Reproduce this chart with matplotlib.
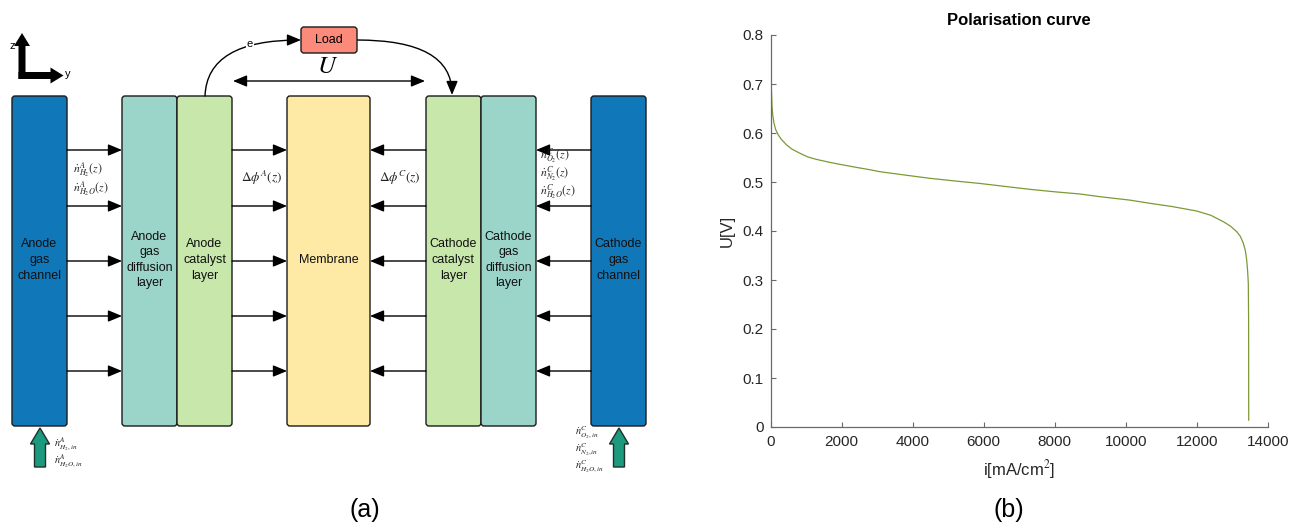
import matplotlib
matplotlib.use("Agg")
import matplotlib.pyplot as plt
from matplotlib.patches import FancyBboxPatch, FancyArrow, FancyArrowPatch
from matplotlib.path import Path

plt.rcParams['font.family'] = ['Liberation Sans', 'DejaVu Sans']
plt.rcParams['mathtext.fontset'] = 'stix'

# ---------------- data: polarisation curve ----------------
current_density = [0, 3, 8, 17, 37, 60, 93, 140, 214, 300, 450, 600, 825, 1050,
                   1296, 1670, 1952, 2400, 2797, 3079, 3800, 4487, 5200, 5896,
                   6600, 7304, 8000, 8713, 9276, 10121, 10685, 11300, 12000,
                   12400, 12750, 12950, 13127, 13230, 13313, 13370, 13408,
                   13435, 13454, 13462, 13465]
voltage = [0.800, 0.750, 0.720, 0.695, 0.654, 0.635, 0.620, 0.607, 0.596, 0.587,
           0.5755, 0.567, 0.5586, 0.551, 0.546, 0.540, 0.536, 0.530, 0.525,
           0.521, 0.514, 0.5075, 0.502, 0.497, 0.491, 0.485, 0.480, 0.4755,
           0.470, 0.463, 0.4565, 0.450, 0.4408, 0.432, 0.419, 0.410, 0.3986,
           0.389, 0.375, 0.360, 0.341, 0.318, 0.293, 0.220, 0.014]
x_ticks = [0, 2000, 4000, 6000, 8000, 10000, 12000, 14000]
x_tick_labels = ["0", "2000", "4000", "6000", "8000", "10000", "12000", "14000"]
y_ticks = [0, 0.1, 0.2, 0.3, 0.4, 0.5, 0.6, 0.7, 0.8]
y_tick_labels = ["0", "0.1", "0.2", "0.3", "0.4", "0.5", "0.6", "0.7", "0.8"]

# ---------------- diagram content ----------------
layer_names = ["Anode\ngas\nchannel", "Anode\ngas\ndiffusion\nlayer",
               "Anode\ncatalyst\nlayer", "Membrane", "Cathode\ncatalyst\nlayer",
               "Cathode\ngas\ndiffusion\nlayer", "Cathode\ngas\nchannel"]
layer_left = [12, 122, 177, 287, 426, 481, 591]
layer_right = [67, 177, 232, 370, 481, 536, 646]
layer_colors = ["#1077b9", "#9bd5ca", "#c8e8ab", "#ffeaa5", "#c8e8ab",
                "#9bd5ca", "#1077b9"]
flux_rows = [150, 206, 261, 316, 371]
flux_gaps = [(67, 122), (232, 287), (426, 370), (591, 536)]

W, H = 1299, 530
fig = plt.figure(figsize=(W / 100, H / 100), dpi=100)

# ---------------- (a) diagram ----------------
ax0 = fig.add_axes([0, 0, 700 / W, 1])
ax0.set_xlim(0, 700)
ax0.set_ylim(H, 0)
ax0.axis('off')

top, bottom = 96, 426
for name, l, r, c in zip(layer_names, layer_left, layer_right, layer_colors):
    ax0.add_patch(FancyBboxPatch((l, top), r - l, bottom - top,
                                 boxstyle="round,pad=0,rounding_size=3",
                                 fc=c, ec="#1a1a1a", lw=1.0, zorder=2))
    ax0.text((l + r) / 2, 260, name, ha='center', va='center', fontsize=9,
             color='#111111', linespacing=1.4, zorder=3)

arrow_kw = dict(arrowstyle='-|>,head_length=0.6,head_width=0.25', lw=1.0,
                color='black', shrinkA=0, shrinkB=0, mutation_scale=14)
for (x0, x1) in flux_gaps:
    for yy in flux_rows:
        ax0.annotate('', xy=(x1, yy), xytext=(x0, yy), arrowprops=arrow_kw)

mt = dict(fontsize=8.5, color='#222222')
ax0.text(73, 170, r'$\dot{n}^{A}_{H_2}(z)$', ha='left', va='center', **mt)
ax0.text(73, 189, r'$\dot{n}^{A}_{H_2O}(z)$', ha='left', va='center', **mt)
ax0.text(241, 178, r'$\Delta\phi^{A}(z)$', ha='left', va='center', fontsize=9.5,
         color='#222222')
ax0.text(379, 178, r'$\Delta\phi^{C}(z)$', ha='left', va='center', fontsize=9.5,
         color='#222222')
ax0.text(540, 156, r'$\dot{n}^{C}_{O_2}(z)$', ha='left', va='center', **mt)
ax0.text(540, 174, r'$\dot{n}^{C}_{N_2}(z)$', ha='left', va='center', **mt)
ax0.text(540, 192, r'$\dot{n}^{C}_{H_2O}(z)$', ha='left', va='center', **mt)

# Load box and electron path
ax0.add_patch(FancyBboxPatch((301, 27), 56, 26,
                             boxstyle="round,pad=0,rounding_size=3",
                             fc="#fb8a7b", ec="#1a1a1a", lw=1.0, zorder=3))
ax0.text(329, 40, "Load", ha='center', va='center', fontsize=9, zorder=4)
p1 = Path([(205, 96), (207, 40), (301, 40)], [Path.MOVETO, Path.CURVE3, Path.CURVE3])
ax0.add_patch(FancyArrowPatch(path=p1, arrowstyle='-|>,head_length=0.6,head_width=0.25',
                              mutation_scale=14, lw=1.0, color='black', zorder=2))
p2 = Path([(357, 40), (452, 40), (452, 95)], [Path.MOVETO, Path.CURVE3, Path.CURVE3])
ax0.add_patch(FancyArrowPatch(path=p2, arrowstyle='-|>,head_length=0.6,head_width=0.25',
                              mutation_scale=14, lw=1.0, color='black', zorder=2))
ax0.text(250, 44, r'e', ha='center', va='center', fontsize=8, zorder=4,
         bbox=dict(fc='white', ec='none', pad=0.3))
ax0.text(328, 66, r'$U$', ha='center', va='center', fontsize=18)
ax0.annotate('', xy=(425, 81), xytext=(233, 81),
             arrowprops=dict(arrowstyle='<|-|>,head_length=0.6,head_width=0.25',
                             lw=1.0, color='black', shrinkA=0, shrinkB=0,
                             mutation_scale=14))

# coordinate icon
ax0.add_patch(FancyArrow(22, 79, 0, -46, width=7, head_width=16, head_length=13,
                         length_includes_head=True, fc='black', ec='black', lw=0))
ax0.add_patch(FancyArrow(18.5, 75.5, 45, 0, width=7, head_width=16, head_length=13,
                         length_includes_head=True, fc='black', ec='black', lw=0))
ax0.text(12, 46, 'z', ha='center', va='center', fontsize=8)
ax0.text(68, 74, 'y', ha='center', va='center', fontsize=8)

# inlet arrows
for xc in (40, 619):
    ax0.add_patch(FancyArrow(xc, 467, 0, -39, width=11, head_width=19, head_length=16,
                             length_includes_head=True, fc='#1b9a7e', ec='#1f2f2a',
                             lw=1.0, zorder=3))
mi = dict(fontsize=7.5, color='#222222')
ax0.text(54, 444, r'$\dot{n}^{A}_{H_2,in}$', ha='left', va='center', **mi)
ax0.text(54, 461, r'$\dot{n}^{A}_{H_2O,in}$', ha='left', va='center', **mi)
ax0.text(575, 433, r'$\dot{n}^{C}_{O_2,in}$', ha='left', va='center', **mi)
ax0.text(575, 450, r'$\dot{n}^{C}_{N_2,in}$', ha='left', va='center', **mi)
ax0.text(575, 467, r'$\dot{n}^{C}_{H_2O,in}$', ha='left', va='center', **mi)

# ---------------- (b) polarisation curve ----------------
ax = fig.add_axes([770.7 / W, (H - 427) / H, 497 / W, 392 / H])
ax.plot(current_density, voltage, color='#7b9a36', lw=0.9)
ax.set_xlim(0, 14000)
ax.set_ylim(0, 0.8)
ax.set_xticks(x_ticks)
ax.set_xticklabels(x_tick_labels)
ax.set_yticks(y_ticks)
ax.set_yticklabels(y_tick_labels)
for s in ('top', 'right'):
    ax.spines[s].set_visible(False)
for s in ('left', 'bottom'):
    ax.spines[s].set_color('#6a6a6a')
    ax.spines[s].set_linewidth(0.9)
ax.tick_params(direction='in', length=3.5, width=0.8, color='#6a6a6a',
               labelcolor='#262626', labelsize=11)
ax.tick_params(axis='x', pad=6)
ax.tick_params(axis='y', pad=5)
ax.set_title('Polarisation curve', fontsize=12, fontweight='bold', pad=7)
ax.set_xlabel(r'i[mA/cm$^2$]', fontsize=12, color='#262626', labelpad=6)
ax.set_ylabel('U[V]', fontsize=12, color='#262626', labelpad=6)

fig.text(365 / W, 1 - 510 / H, '(a)', ha='center', va='center', fontsize=18)
fig.text(1009 / W, 1 - 510 / H, '(b)', ha='center', va='center', fontsize=18)

fig.savefig('out.png', dpi=100)
